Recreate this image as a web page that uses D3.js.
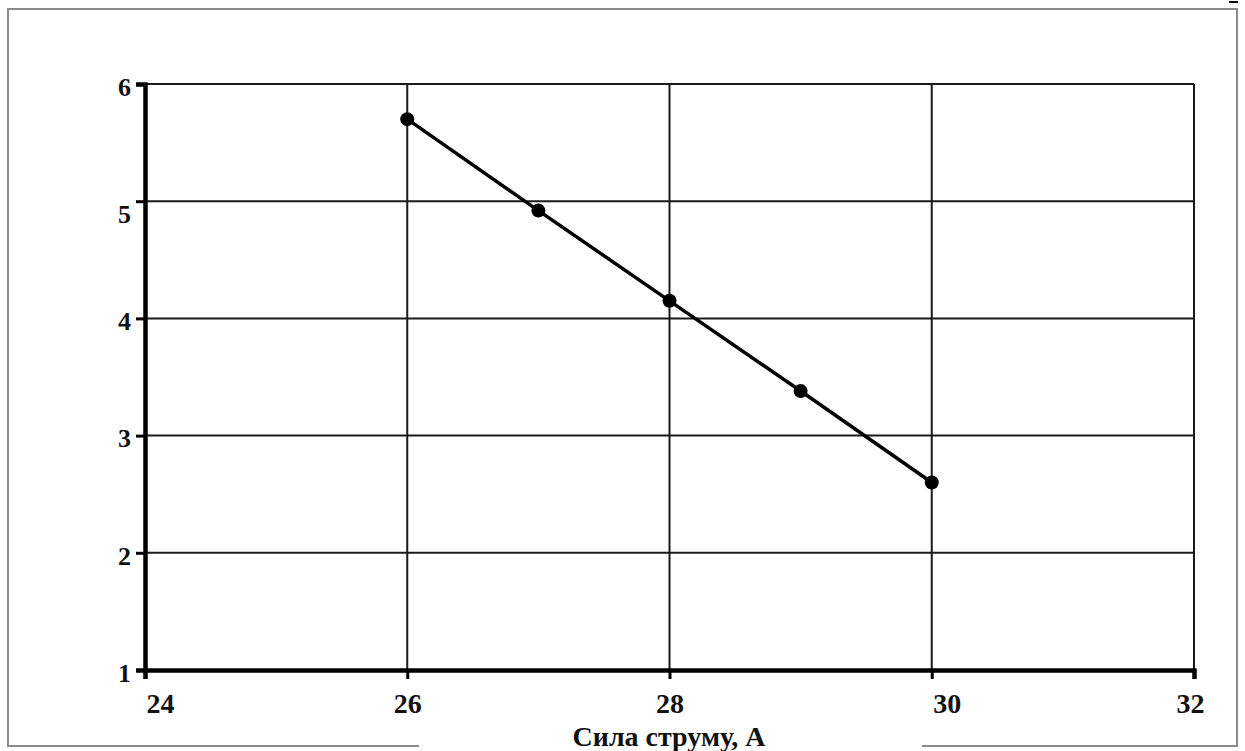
<!DOCTYPE html>
<html>
<head>
<meta charset="utf-8">
<script src="https://cdn.jsdelivr.net/npm/d3@7"></script>
<style>
  body { margin: 0; background: #fff; }
  svg { display: block; }
  .tick text { font-family: "Liberation Serif", "Times New Roman", serif; font-weight: bold; fill: #111; }
</style>
</head>
<body>
<div id="chart"></div>
<script>
// data
var current = [26, 27, 28, 29, 30];
var voltage = [5.7, 4.92, 4.15, 3.38, 2.6];
var xTicks = [24, 26, 28, 30, 32];
var yTicks = [1, 2, 3, 4, 5, 6];
var xTitle = 'Сила струму, А';

var W = 1245, H = 751;
var svg = d3.select('#chart').append('svg')
  .attr('width', W)
  .attr('height', H);

// outer frame
svg.append('rect')
  .attr('x', 8).attr('y', 9)
  .attr('width', 1229).attr('height', 737)
  .attr('fill', 'none')
  .attr('stroke', '#8a8a8a')
  .attr('stroke-width', 2);

// little mark in the top right corner
svg.append('line')
  .attr('x1', 1229).attr('x2', 1238)
  .attr('y1', 2).attr('y2', 2)
  .attr('stroke', '#000').attr('stroke-width', 2);

var x = d3.scaleLinear().domain([24, 32]).range([145, 1194]);
var y = d3.scaleLinear().domain([1, 6]).range([670, 84]);

// grid
var grid = svg.append('g');
grid.selectAll('.hg')
  .data(yTicks.slice(1))
  .enter()
  .append('line')
  .attr('x1', x(24)).attr('x2', x(32))
  .attr('y1', function (d) { return y(d); })
  .attr('y2', function (d) { return y(d); })
  .attr('stroke', '#1a1a1a')
  .attr('stroke-width', 2);
grid.selectAll('.vg')
  .data(xTicks.slice(1))
  .enter()
  .append('line')
  .attr('y1', y(1)).attr('y2', y(6))
  .attr('x1', function (d) { return x(d); })
  .attr('x2', function (d) { return x(d); })
  .attr('stroke', '#1a1a1a')
  .attr('stroke-width', 2);

// axes
var xAxis = svg.append('g')
  .attr('transform', 'translate(0,' + y(1) + ')')
  .call(d3.axisBottom(x).tickValues(xTicks).tickSize(9).tickPadding(14).tickFormat(d3.format('d')));
xAxis.select('.domain').attr('stroke', '#000').attr('stroke-width', 4.5);
xAxis.selectAll('.tick line').attr('stroke', '#000').attr('stroke-width', 3);

// the scan has some labels nudged a little
var xLabelShift = {24: 15, 30: 15, 32: -4};
xAxis.selectAll('.tick text')
  .style('font-size', '28px')
  .attr('dx', function (d) { return xLabelShift[d] || 0; });

var yAxis = svg.append('g')
  .attr('transform', 'translate(' + x(24) + ',0)')
  .call(d3.axisLeft(y).tickValues(yTicks).tickSize(9).tickPadding(5).tickFormat(d3.format('d')));
yAxis.select('.domain').attr('stroke', '#000').attr('stroke-width', 4.5);
yAxis.selectAll('.tick line').attr('stroke', '#000').attr('stroke-width', 3);
var yLabelShift = {5: 13};
yAxis.selectAll('.tick text')
  .style('font-size', '26px')
  .attr('dy', function (d) { return (0.32 + (yLabelShift[d] || 3) / 26) + 'em'; });

// white gap in the frame behind the axis title
svg.append('rect')
  .attr('x', 419).attr('y', 722)
  .attr('width', 503).attr('height', 29)
  .attr('fill', '#fff');

svg.append('text')
  .attr('x', 669)
  .attr('y', 746)
  .attr('text-anchor', 'middle')
  .style('font-family', '"Liberation Serif", "Times New Roman", serif')
  .style('font-weight', 'bold')
  .style('font-size', '28px')
  .style('fill', '#111')
  .text(xTitle);

// line and points
var pts = current.map(function (c, i) { return [c, voltage[i]]; });
svg.append('path')
  .datum(pts)
  .attr('fill', 'none')
  .attr('stroke', '#000')
  .attr('stroke-width', 3.5)
  .attr('d', d3.line()
    .x(function (d) { return x(d[0]); })
    .y(function (d) { return y(d[1]); }));

svg.selectAll('.pt')
  .data(pts)
  .enter()
  .append('circle')
  .attr('cx', function (d) { return x(d[0]); })
  .attr('cy', function (d) { return y(d[1]); })
  .attr('r', 7)
  .attr('fill', '#000');
</script>
</body>
</html>
